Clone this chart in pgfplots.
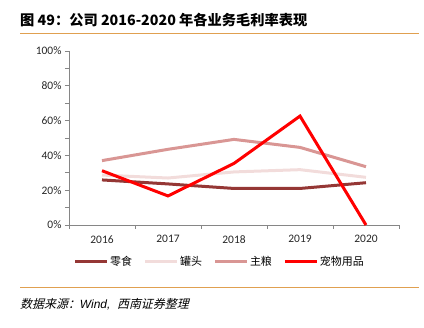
\documentclass[border=0pt]{standalone}
\usepackage{fontspec}
\setmainfont{Carlito}
\newfontfamily\cjk{Noto Sans CJK SC}
\newfontfamily\cjkit[FakeSlant=0.25]{Noto Sans CJK SC}
\newfontfamily\lib{Liberation Sans}
\usepackage{pgfplots}
\pgfplotsset{compat=1.18}
\definecolor{c1}{HTML}{953735}
\definecolor{c2}{HTML}{F2DCDB}
\definecolor{c3}{HTML}{D99694}
\definecolor{c4}{HTML}{FF0000}
\definecolor{orn}{HTML}{E0A050}
\definecolor{axg}{HTML}{868686}
\begin{document}
\begin{tikzpicture}
\path[use as bounding box] (0bp,0bp) rectangle (424bp,328bp);
\draw[orn, line width=1bp] (20bp,294bp) -- (419bp,294bp);
\node[anchor=west, inner sep=0pt, font=\cjk\bfseries\fontsize{14.3}{14.3}\selectfont] at (20bp,308bp) {图 49：公司 2016-2020 年各业务毛利率表现};
\begin{axis}[at={(69bp,103bp)}, anchor=south west,
  width=330bp, height=174bp, scale only axis,
  xmin=-0.5, xmax=4.5, ymin=0, ymax=100,
  axis x line*=bottom, axis y line*=left,
  axis line style={draw=axg, line width=0.8bp},
  tick style={draw=axg, line width=0.8bp},
  tick align=outside,
  major tick length=4bp, minor tick length=4bp,
  xtick={-0.5,0.5,1.5,2.5,3.5,4.5}, xticklabels={},
  extra x ticks={0,1,2,3,4},
  extra x tick labels={2016,2017,2018,2019,2020},
  extra x tick style={tick style={draw=none}, tick label style={yshift=-3bp}},
  ytick={0,20,40,60,80,100}, minor y tick num=1,
  yticklabel={\pgfmathprintnumber{\tick}\%},
  /pgf/number format/assume math mode=true,
  tick label style={font=\fontsize{11.5}{11.5}\selectfont, text=black!85},
  legend style={at={(0.456,-0.2126)}, anchor=center, draw=none, fill=none,
    font=\cjk\fontsize{11}{11}\selectfont, inner sep=0pt,
    nodes={inner sep=1.5bp},
    /tikz/every even column/.append style={column sep=10bp}},
  legend columns=4,
  legend image code/.code={\draw[#1] (0bp,0bp) -- (32bp,0bp);},
  legend cell align=left,
  clip=false,
]
\addplot[c1, line width=3bp] coordinates {(0,25.9) (1,23.6) (2,21) (3,21) (4,24.3)};
\addlegendentry{零食}
\addplot[c2, line width=3bp] coordinates {(0,28.7) (1,27) (2,30.5) (3,31.8) (4,27.4)};
\addlegendentry{罐头}
\addplot[c3, line width=3bp] coordinates {(0,37) (1,43.5) (2,49.2) (3,44.6) (4,33.5)};
\addlegendentry{主粮}
\addplot[c4, line width=3bp] coordinates {(0,31.2) (1,16.7) (2,35.4) (3,62.6) (4,0)};
\addlegendentry{宠物用品}
\end{axis}
\draw[orn, line width=1bp] (20bp,40.3bp) -- (419bp,40.3bp);
\node[anchor=west, inner sep=0pt, font=\fontsize{12}{12}\selectfont] at (20bp,24bp) {\cjkit 数据来源：\lib\itshape Wind,\ \ \cjkit 西南证券整理};
\end{tikzpicture}
\end{document}
